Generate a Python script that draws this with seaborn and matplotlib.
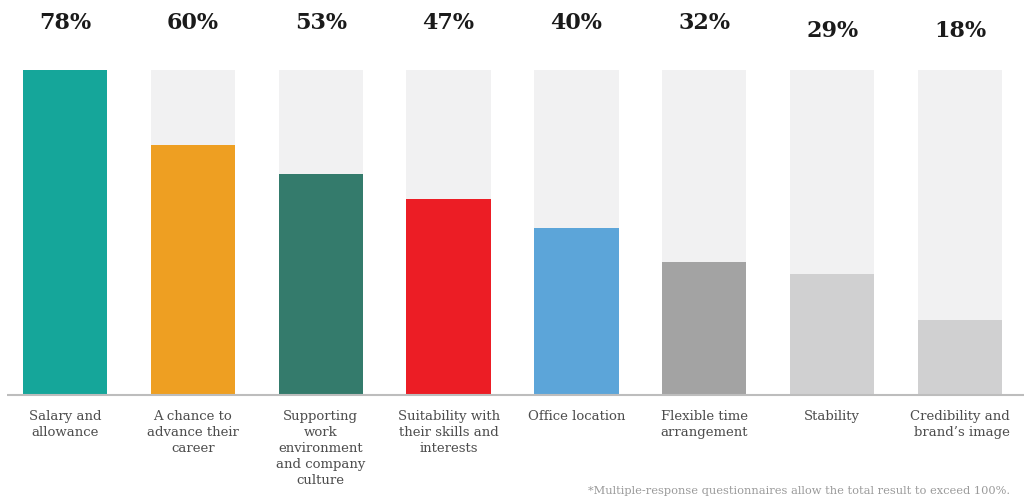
import matplotlib
matplotlib.use("Agg")
import matplotlib.pyplot as plt
import matplotlib.transforms as mtransforms
import seaborn as sns
import pandas as pd

# datos del gráfico
categorias = [
    "Salary and\nallowance",
    "A chance to\nadvance their\ncareer",
    "Supporting\nwork\nenvironment\nand company\nculture",
    "Suitability with\ntheir skills and\ninterests",
    "Office location",
    "Flexible time\narrangement",
    "Stability",
    "Credibility and\nbrand\u2019s image",
]
porcentajes = [78, 60, 53, 47, 40, 32, 29, 18]
colores = ["#15a69a", "#ee9f22", "#347b6c", "#ec1d25",
           "#5ca5d9", "#a3a3a3", "#d0d0d1", "#d0d0d1"]
alineacion = ["center", "center", "center", "center",
              "center", "left", "center", "right"]
nota = "*Multiple-response questionnaires allow the total result to exceed 100%."

sns.set_style("white")
plt.rcParams["font.family"] = ["DejaVu Serif"]

df = pd.DataFrame({
    "cat": categorias,
    "valor": porcentajes,
    "fondo": [max(porcentajes)] * len(porcentajes),
})

fig = plt.figure(figsize=(10.24, 4.99), dpi=100)
ax = fig.add_axes([0, 104 / 499, 1, 325 / 499])

sns.barplot(data=df, x="cat", y="fondo", color="#f1f1f2", width=0.66,
            ax=ax, saturation=1, linewidth=0)
sns.barplot(data=df, x="cat", y="valor", hue="cat", palette=colores,
            width=0.66, ax=ax, saturation=1, legend=False, linewidth=0)

escala = 127.86
ax.set_xlim(-65 / escala, (1024 - 65) / escala)
ax.set_ylim(0, max(porcentajes))
ax.axis("off")

# linea base
ax.plot([7 / 1024, 1.0], [0, 0], transform=ax.transAxes, color="#bdbdbd",
        lw=1.5, clip_on=False, solid_capstyle="butt")

trans = mtransforms.blended_transform_factory(ax.transData, ax.transAxes)
for i, (cat, pct) in enumerate(zip(categorias, porcentajes)):
    y_pct = 1.145 if i < 6 else 1.12
    ax.text(i, y_pct, f"{pct}%", transform=trans, ha="center", va="center",
            fontsize=16, fontweight="bold", color="#1a1a1a", clip_on=False)
    ax.text(i, -0.045, cat, transform=trans, ha="center", va="top",
            multialignment=alineacion[i], fontsize=9.5, color="#4d4d4d",
            linespacing=1.3, clip_on=False)

fig.text(1010 / 1024, 1 - 491 / 499, nota, ha="right", va="center",
         fontsize=8.2, color="#9a9a9a")

fig.savefig("out.png", dpi=100)
